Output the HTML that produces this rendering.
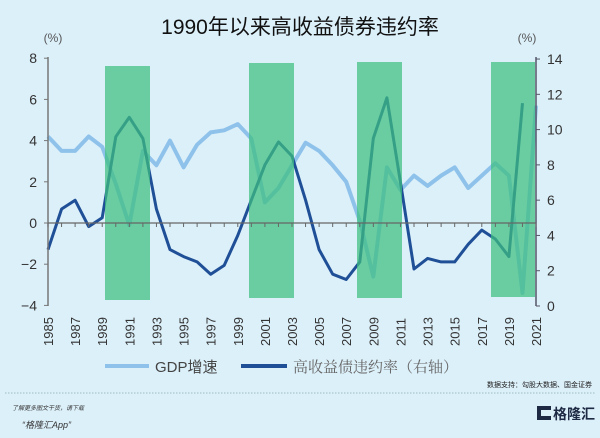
<!DOCTYPE html><html><head><meta charset="utf-8"><style>
body{margin:0;width:600px;height:438px;background:#dcf0fa;overflow:hidden;font-family:"Liberation Sans","Noto Sans CJK SC",sans-serif}
</style></head><body>
<svg id="s" width="600" height="438" xmlns="http://www.w3.org/2000/svg" style="position:absolute;left:0;top:0">
<rect width="600" height="438" fill="#dcf0fa"/>
<text x="300" y="34" font-size="21" text-anchor="middle" fill="#111" font-family="Liberation Sans,Noto Sans CJK SC,sans-serif">1990年以来高收益债券违约率</text>
<text x="53" y="42" font-size="12" text-anchor="middle" fill="#555">(%)</text>
<text x="527" y="42" font-size="12" text-anchor="middle" fill="#555">(%)</text>
<g id="g"></g>
<line x1="105" y1="366" x2="149" y2="366" stroke="#8fc2ea" stroke-width="4"/>
<text x="155" y="372" font-size="15" fill="#444">GDP增速</text>
<line x1="241" y1="366" x2="287" y2="366" stroke="#1f4f96" stroke-width="4"/>
<text x="293" y="372" font-size="15" fill="#666" font-family="Noto Serif CJK SC,serif">高收益债违约率（右轴）</text>
<text x="592" y="387" font-size="7" text-anchor="end" fill="#222">数据支持：勾股大数据、国金证券</text>
<line x1="5" y1="393" x2="595" y2="393" stroke="#8aa" stroke-width="0.7" stroke-dasharray="1.5,1.5"/>
<text x="12" y="410" font-size="6" fill="#333" font-style="italic">了解更多图文干货，请下载</text>
<text x="22" y="428" font-size="9" fill="#333" font-style="italic">“格隆汇App”</text>
<rect x="537" y="406" width="14" height="14" fill="#1e2a44"/><rect x="541" y="410" width="10" height="6" fill="#dcf0fa"/>
<text x="553" y="419" font-size="14" font-weight="bold" fill="#1e2a44">格隆汇</text>
</svg>
<script>
var g=document.getElementById('g'),h='';
var X=function(y){return 48+(y-1985)*13.556},YL=function(v){return 223-v*20.6},YR=function(v){return 306-v*17.64};
var gdp=[4.2,3.5,3.5,4.2,3.7,1.9,-0.1,3.5,2.8,4.0,2.7,3.8,4.4,4.5,4.8,4.1,1.0,1.7,2.8,3.9,3.5,2.8,2.0,0.1,-2.6,2.7,1.6,2.3,1.8,2.3,2.7,1.7,2.3,2.9,2.3,-3.4,5.7];
var dr=[3.2,5.5,6.0,4.5,5.0,9.6,10.7,9.5,5.5,3.2,2.8,2.5,1.8,2.3,4.0,6.0,8.0,9.3,8.5,6.0,3.2,1.8,1.5,2.5,9.5,11.8,7.0,2.1,2.7,2.5,2.5,3.5,4.3,3.8,2.8,11.5];
function pts(a,f){return a.map(function(v,i){return X(1985+i).toFixed(1)+','+f(v).toFixed(1)}).join(' ')}
h+='<polyline points="'+pts(gdp,YL)+'" fill="none" stroke="#8fc2ea" stroke-width="4" stroke-linejoin="round"/>';
h+='<polyline points="'+pts(dr,YR)+'" fill="none" stroke="#1f4f96" stroke-width="3" stroke-linejoin="round"/>';
[[105,66,45,234],[249,63,45,235],[357,62,45,236],[491,62,44,235]].forEach(function(b){h+='<rect x="'+b[0]+'" y="'+b[1]+'" width="'+b[2]+'" height="'+b[3]+'" fill="#3fbf7f" fill-opacity="0.72"/>'});
h+='<line x1="48" y1="57" x2="48" y2="306" stroke="#777" stroke-width="1.5"/><line x1="536" y1="57" x2="536" y2="306" stroke="#556" stroke-width="1.5"/>';
h+='<line x1="48" y1="223" x2="536" y2="223" stroke="#666" stroke-width="1.3"/>';
for(var v=-4;v<=8;v+=2){var y=YL(v);h+='<line x1="44" y1="'+y+'" x2="48" y2="'+y+'" stroke="#777"/><text x="37" y="'+(y+5)+'" font-size="14" text-anchor="end" fill="#333">'+(v<0?'−'+(-v):v)+'</text>';}
for(var v=0;v<=14;v+=2){var y=YR(v);h+='<line x1="536" y1="'+y+'" x2="540" y2="'+y+'" stroke="#556"/><text x="547" y="'+(y+5)+'" font-size="14" fill="#333">'+v+'</text>';}
for(var yr=1985;yr<=2021;yr++){var x=X(yr);h+='<line x1="'+x+'" y1="223" x2="'+x+'" y2="227" stroke="#666"/>';if((yr-1985)%2==0)h+='<text transform="translate('+(x+5)+',346) rotate(-90)" font-size="13" fill="#333">'+yr+'</text>';}
g.innerHTML=h;
</script>
</body></html>
